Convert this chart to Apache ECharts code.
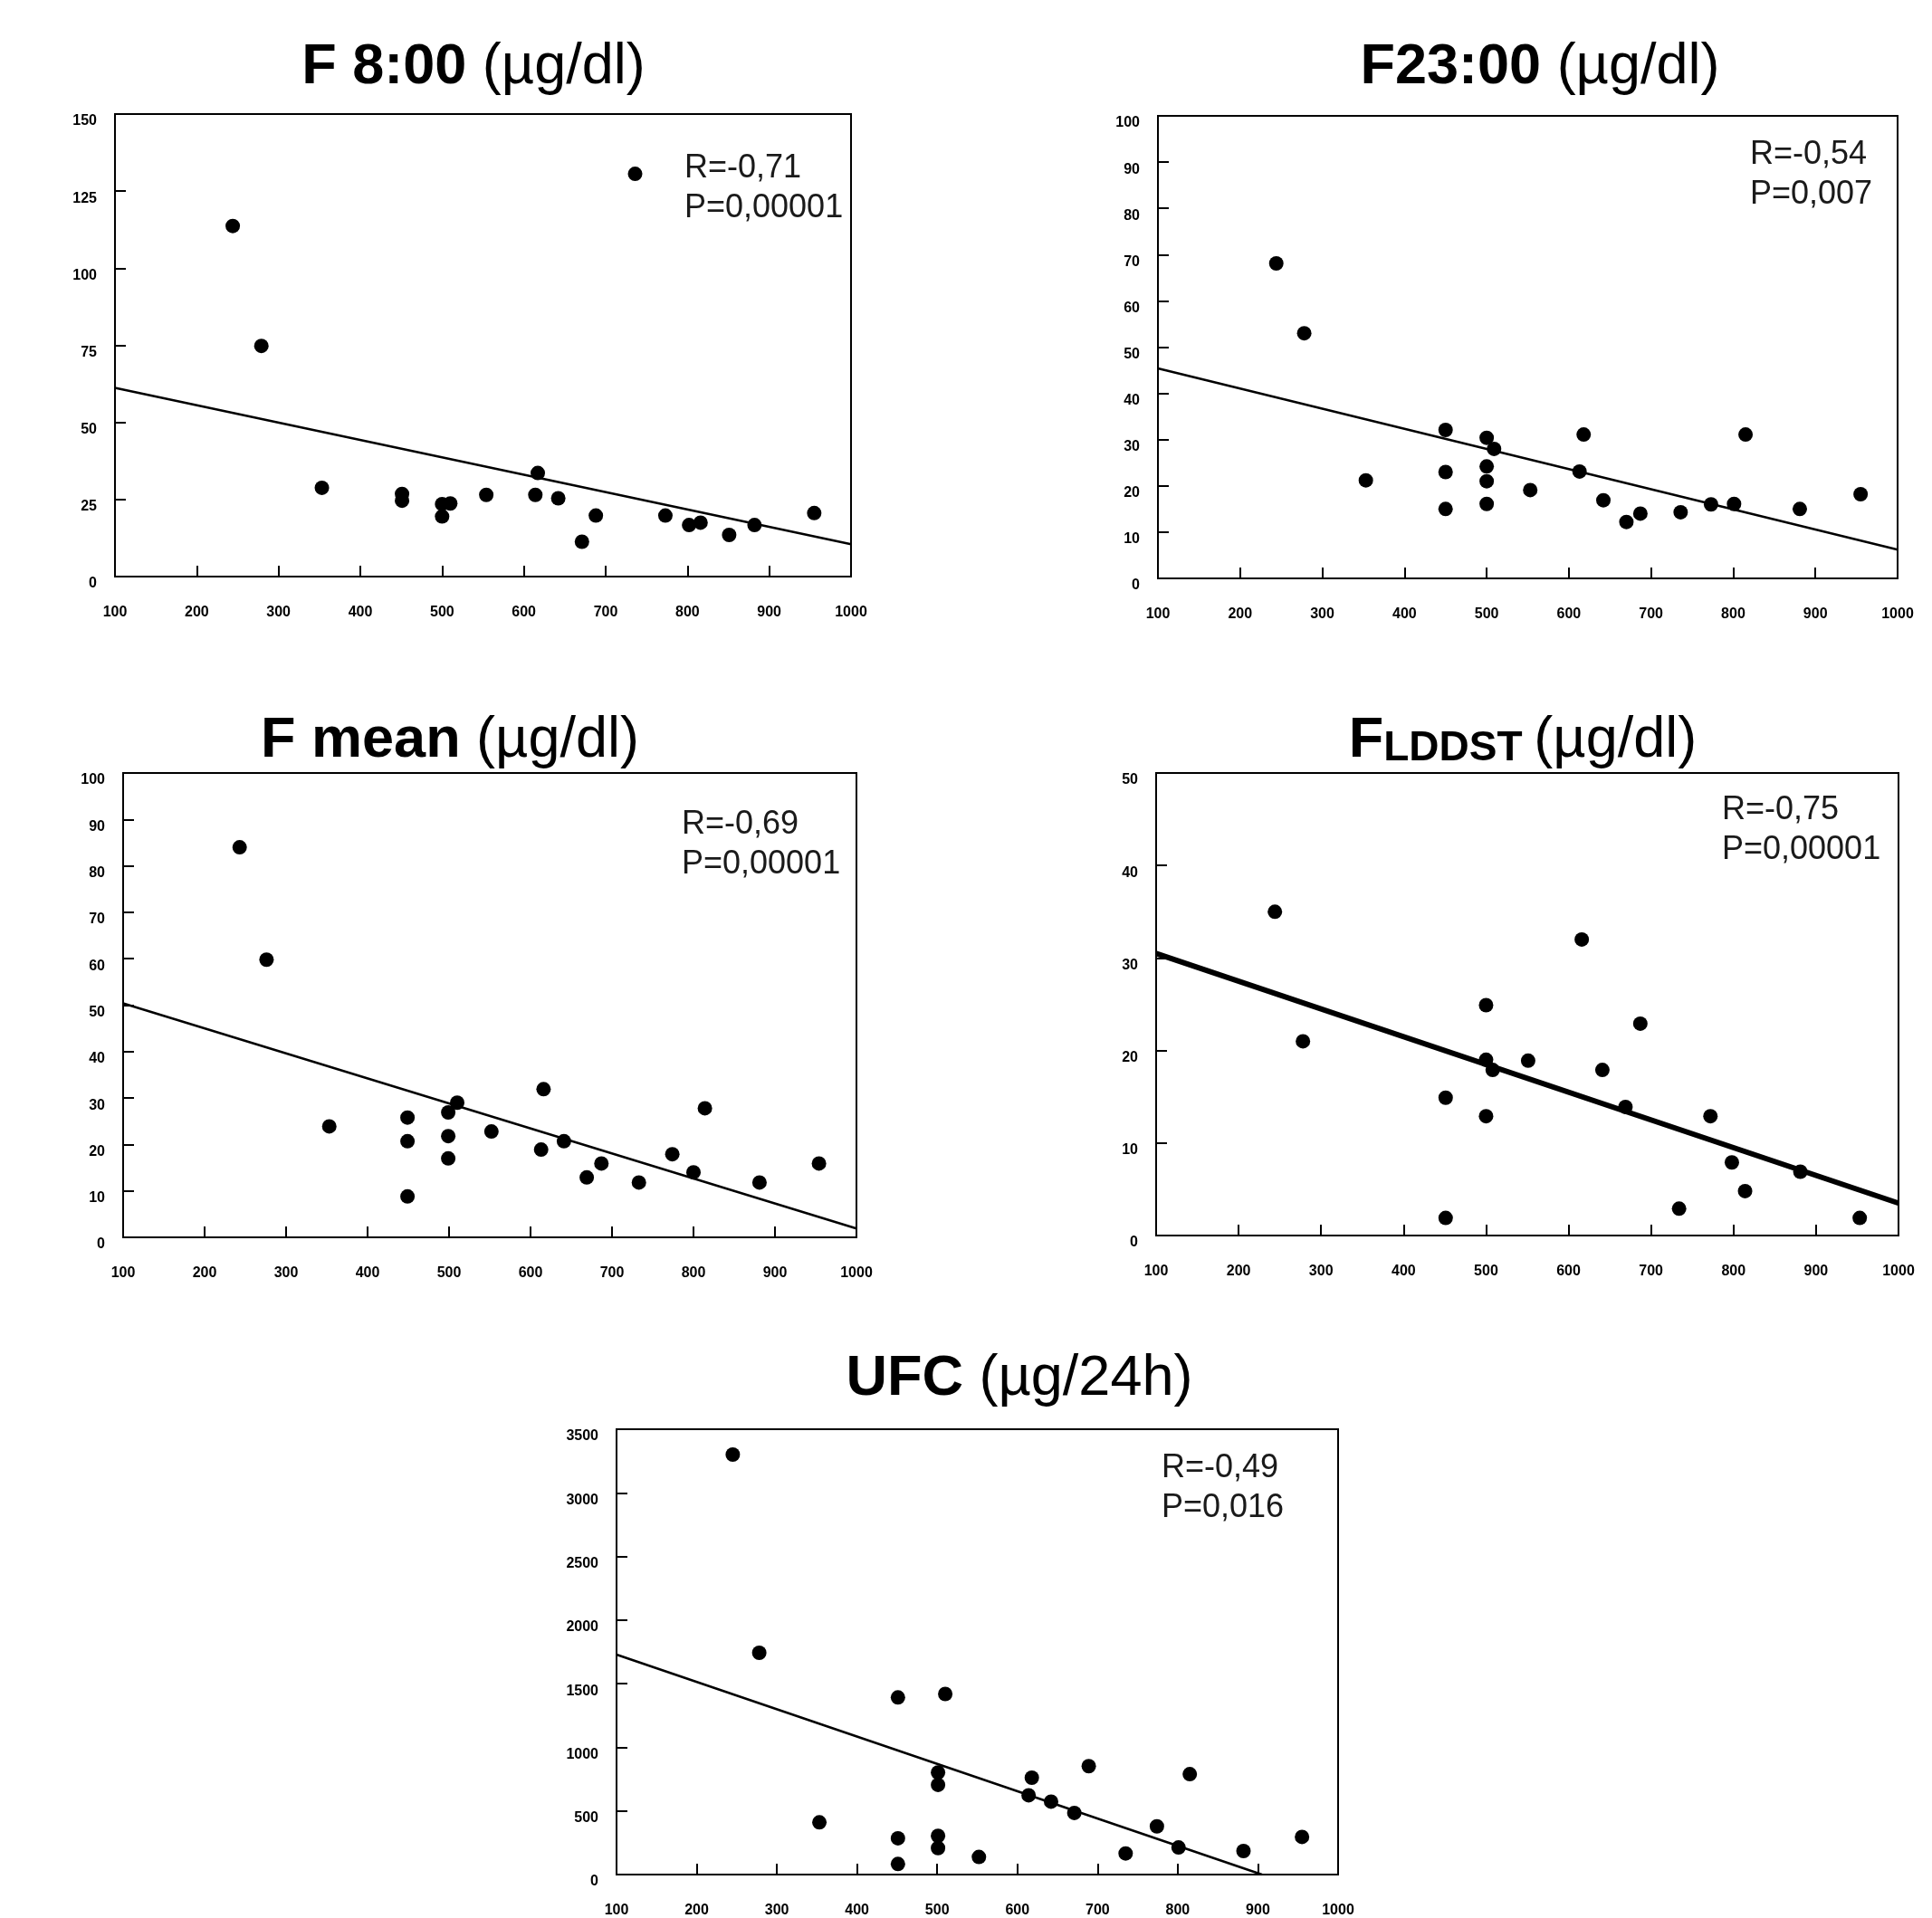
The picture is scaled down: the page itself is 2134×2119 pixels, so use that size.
<!DOCTYPE html>
<html>
<head>
<meta charset="utf-8">
<script src="https://cdn.jsdelivr.net/npm/echarts@6/dist/echarts.min.js"></script>
<style>
html,body{margin:0;padding:0;background:#fff;}
#chart{width:2134px;height:2119px;}
</style>
</head>
<body>
<div id="chart"></div>
<script>
// ---- data ----
const xRange = [100, 1000, 100];

const f800X = [244, 279, 353, 451, 451, 500, 500, 510, 554, 614, 617, 642, 671, 688, 736, 773, 802, 816, 851, 882, 955];
const f800Y = [113.7, 74.8, 28.8, 26.8, 24.6, 23.5, 19.5, 23.7, 26.5, 26.5, 33.6, 25.4, 11.3, 19.8, 130.6, 19.8, 16.7, 17.5, 13.5, 16.7, 20.6];
const f800Range = [0, 150, 25];
const f800Trend = [[100, 61.2], [1000, 10.5]];
const f800Stats = ['R=-0,71', 'P=0,00001'];

const f2300X = [244, 278, 353, 450, 450, 450, 500, 500, 500, 500, 509, 553, 618, 613, 642, 670, 687, 736, 773, 801, 815, 881, 955];
const f2300Y = [68.1, 53.0, 21.2, 32.1, 23.0, 15.0, 30.4, 24.2, 21.0, 16.1, 28.0, 19.1, 31.1, 23.1, 16.9, 12.2, 14.0, 14.3, 16.0, 16.1, 31.1, 15.0, 18.2];
const f2300Range = [0, 100, 10];
const f2300Trend = [[100, 45.4], [1000, 6.2]];
const f2300Stats = ['R=-0,54', 'P=0,007'];

const fMeanX = [243, 276, 353, 449, 449, 449, 499, 499, 499, 510, 552, 616, 613, 641, 669, 687, 733, 774, 800, 814, 881, 954];
const fMeanY = [84.0, 59.8, 23.9, 25.8, 20.7, 8.8, 26.9, 21.8, 17.0, 29.0, 22.8, 31.9, 18.9, 20.7, 12.9, 15.9, 11.8, 17.9, 14.0, 27.8, 11.8, 15.9];
const fMeanRange = [0, 100, 10];
const fMeanTrend = [[100, 50.4], [1000, 1.9]];
const fMeanStats = ['R=-0,69', 'P=0,00001'];

const fLddstX = [244, 278, 451, 451, 500, 500, 500, 508, 551, 616, 641, 669, 687, 734, 772, 798, 814, 881, 953];
const fLddstY = [35.0, 21.0, 14.9, 1.9, 24.9, 19.0, 12.9, 17.9, 18.9, 32.0, 17.9, 13.9, 22.9, 2.9, 12.9, 7.9, 4.8, 6.9, 1.9];
const fLddstRange = [0, 50, 10];
const fLddstTrend = [[100, 30.5], [1000, 3.5]];
const fLddstStats = ['R=-0,75', 'P=0,00001'];

const ufcX = [245, 278, 353, 451, 451, 451, 501, 501, 501, 501, 510, 552, 618, 614, 642, 671, 689, 735, 774, 801, 815, 882, 955];
const ufcY = [3301, 1743, 410, 1392, 285, 83, 802, 705, 304, 208, 1419, 138, 761, 623, 573, 484, 852, 166, 379, 213, 789, 185, 296];
const ufcRange = [0, 3500, 500];
const ufcTrend = [[100, 1729], [905, 0]];
const ufcStats = ['R=-0,49', 'P=0,016'];

// ---- layout ----
const panels = [
  {x: f800X, y: f800Y, range: f800Range, trend: f800Trend, stats: f800Stats, lw: 2.5,
   grid: {left: 127, top: 126, width: 813, height: 511},
   title: '{b|F 8:00 }{n|(µg/dl)}', tx: 523, ty: 70, sx: 756, sy: 186},
  {x: f2300X, y: f2300Y, range: f2300Range, trend: f2300Trend, stats: f2300Stats, lw: 2.5,
   grid: {left: 1279, top: 128, width: 817, height: 511},
   title: '{b|F23:00 }{n|(µg/dl)}', tx: 1701, ty: 70, sx: 1933, sy: 171},
  {x: fMeanX, y: fMeanY, range: fMeanRange, trend: fMeanTrend, stats: fMeanStats, lw: 2.5,
   grid: {left: 136, top: 854, width: 810, height: 513},
   title: '{b|F mean }{n|(µg/dl)}', tx: 497, ty: 814, sx: 753, sy: 911},
  {x: fLddstX, y: fLddstY, range: fLddstRange, trend: fLddstTrend, stats: fLddstStats, lw: 6,
   grid: {left: 1277, top: 854, width: 820, height: 511},
   title: '{b|F}{s|LDDST }{n|(µg/dl)}', tx: 1682, ty: 814, sx: 1902, sy: 895},
  {x: ufcX, y: ufcY, range: ufcRange, trend: ufcTrend, stats: ufcStats, lw: 2.5,
   grid: {left: 681, top: 1579, width: 797, height: 500},
   title: '{b|UFC }{n|(µg/24h)}', tx: 1126, ty: 1519, sx: 1283, sy: 1622}
];

const labelFont = "'Liberation Sans', Arial, sans-serif";
const plainNum = v => String(v);
const grids = [], xAxes = [], yAxes = [], series = [], graphics = [];

panels.forEach((p, i) => {
  grids.push(Object.assign({show: true, borderColor: '#000', borderWidth: 2, backgroundColor: '#fff', containLabel: false}, p.grid));
  xAxes.push({
    type: 'value', gridIndex: i, min: xRange[0], max: xRange[1], interval: xRange[2],
    splitLine: {show: false},
    axisLine: {show: true, onZero: false, lineStyle: {color: '#000', width: 2}},
    axisTick: {show: true, inside: true, length: 12, lineStyle: {color: '#000', width: 2}},
    axisLabel: {show: true, margin: 32, color: '#000', fontSize: 16, fontWeight: 'bold', fontFamily: labelFont, formatter: plainNum, showMinLabel: true, showMaxLabel: true}
  });
  yAxes.push({
    type: 'value', gridIndex: i, min: p.range[0], max: p.range[1], interval: p.range[2],
    splitLine: {show: false},
    axisLine: {show: true, onZero: false, lineStyle: {color: '#000', width: 2}},
    axisTick: {show: true, inside: true, length: 12, lineStyle: {color: '#000', width: 2}},
    axisLabel: {show: true, margin: 20, color: '#000', fontSize: 16, fontWeight: 'bold', fontFamily: labelFont, verticalAlign: 'top', formatter: plainNum, showMinLabel: true, showMaxLabel: true}
  });
  series.push({
    type: 'line', xAxisIndex: i, yAxisIndex: i, data: p.trend, symbol: 'none', silent: true,
    clip: true, lineStyle: {color: '#000', width: p.lw}, z: 2
  });
  series.push({
    type: 'scatter', xAxisIndex: i, yAxisIndex: i, symbol: 'circle', symbolSize: 16,
    data: p.x.map((v, k) => [v, p.y[k]]),
    itemStyle: {color: '#000', opacity: 1}, z: 3
  });
  graphics.push({
    type: 'text', x: p.tx, y: p.ty,
    style: {
      text: p.title, align: 'center', verticalAlign: 'middle',
      fill: '#000',
      rich: {
        b: {fontSize: 63, fontWeight: 'bold', fontFamily: labelFont, fill: '#000', verticalAlign: 'bottom', lineHeight: 72},
        s: {fontSize: 46, fontWeight: 'bold', fontFamily: labelFont, fill: '#000', verticalAlign: 'bottom', lineHeight: 68},
        n: {fontSize: 63, fontWeight: 'normal', fontFamily: labelFont, fill: '#000', verticalAlign: 'bottom', lineHeight: 72}
      }
    }
  });
  p.stats.forEach((s, k) => {
    graphics.push({
      type: 'text', x: p.sx, y: p.sy + k * 44, z: 10,
      style: {text: s, align: 'left', verticalAlign: 'middle', fill: '#1a1a1a', fontSize: 36, fontFamily: labelFont}
    });
  });
});

const chart = echarts.init(document.getElementById('chart'), null, {renderer: 'canvas'});
chart.setOption({
  backgroundColor: '#fff',
  animation: false,
  grid: grids,
  xAxis: xAxes,
  yAxis: yAxes,
  series: series,
  graphic: graphics
});
</script>
</body>
</html>
